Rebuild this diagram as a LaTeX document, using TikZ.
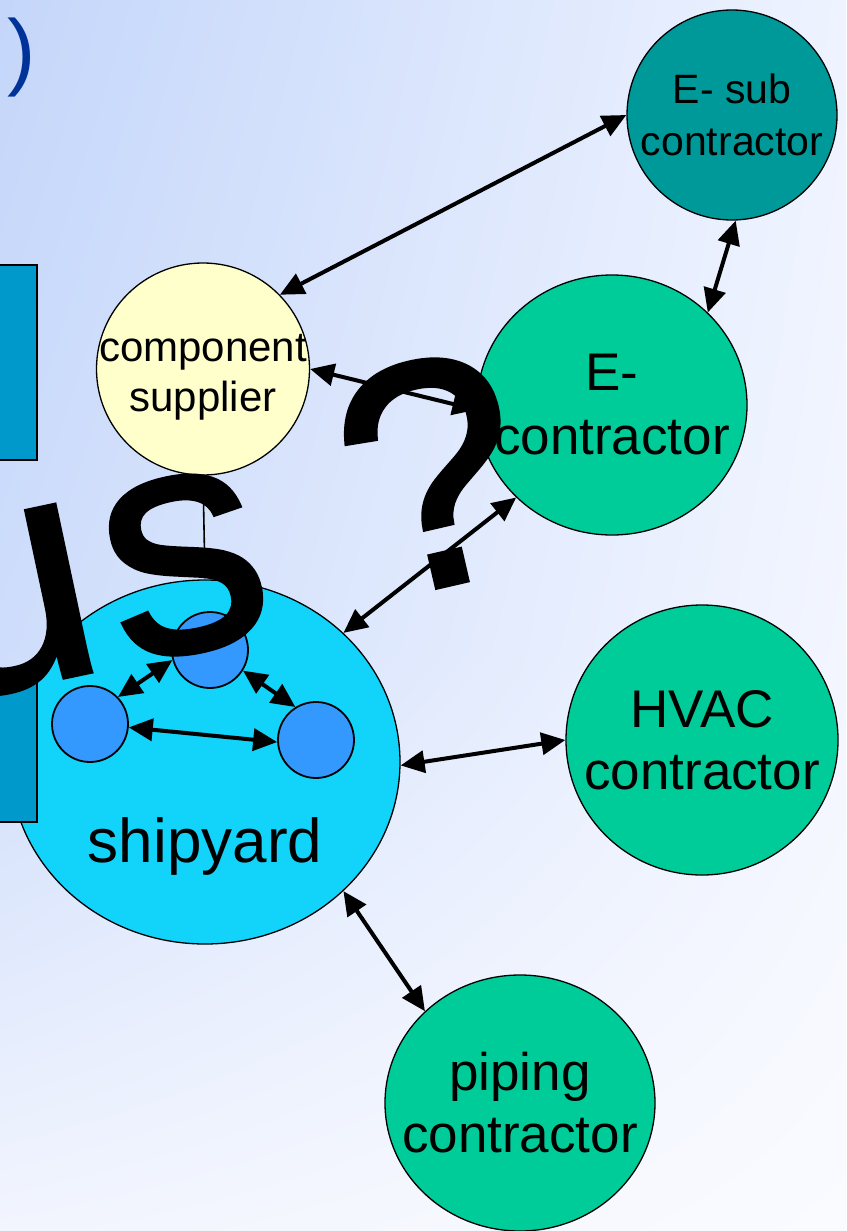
\documentclass[tikz,border=0pt]{standalone}
\usepackage{fontspec}
\setmainfont{Liberation Sans}
\newfontfamily\heavysans[FakeBold=1.5]{Liberation Sans}
\usepackage{tikz}
\usetikzlibrary{positioning, calc}
\usetikzlibrary{shapes.geometric,arrows.meta,shadings}

\definecolor{bgA}{RGB}{196,214,250}
\definecolor{bgB}{RGB}{238,243,255}
\definecolor{bgC}{RGB}{206,221,251}
\definecolor{bgD}{RGB}{243,246,255}
\definecolor{bgE}{RGB}{242,245,254}
\definecolor{bgF}{RGB}{250,251,255}
\definecolor{esubfill}{RGB}{0,153,153}
\definecolor{confill}{RGB}{0,204,153}
\definecolor{yardfill}{RGB}{18,211,250}
\definecolor{deptfill}{RGB}{51,153,255}
\definecolor{compfill}{RGB}{255,255,204}
\definecolor{barfill}{RGB}{0,153,204}
\definecolor{parencol}{RGB}{0,51,153}

\tikzset{
	firm/.style={ellipse, draw=black, line width=1.3pt, inner sep=0pt},
	dept/.style={circle, draw=black, line width=1.8pt, fill=deptfill, minimum size=76pt, inner sep=0pt},
	link/.style={{Triangle[length=24pt,width=22pt]}-{Triangle[length=24pt,width=22pt]}, line width=4pt},
}

\begin{document}
\begin{tikzpicture}[x=1pt, y=-1pt]
			\useasboundingbox (0,0) rectangle (846,1231);
			\clip (0,0) rectangle (846,1231);
			\shade[upper left=bgA, upper right=bgB, lower left=bgC, lower right=bgD] (0,0) rectangle (846,650);
			\shade[upper left=bgC, upper right=bgD, lower left=bgE, lower right=bgF] (0,650) rectangle (846,1231);
			\node[text=parencol, inner sep=0pt, font=\fontsize{85}{90}\selectfont] (paren) at (22,58) {)};

			\node[firm, fill=esubfill, minimum width=210pt, minimum height=210pt,
				label={[align=center, font=\fontsize{41}{52}\selectfont]center:E- sub\\contractor}] (esub) at (732,115) {};
			\node[firm, fill=confill, minimum width=270pt, minimum height=260pt,
				label={[align=center, font=\fontsize{53}{64}\selectfont]center:E-\\contractor}] (econ) at (612,405) {};
			\node[firm, fill=confill, minimum width=272pt, minimum height=270pt,
				label={[align=center, font=\fontsize{53}{62}\selectfont]center:HVAC\\contractor}] (hvac) at (702,740) {};
			\node[firm, fill=confill, minimum width=270pt, minimum height=256pt,
				label={[align=center, font=\fontsize{53}{62}\selectfont]center:piping\\contractor}] (pipe) at (520,1103) {};
			\node[firm, fill=compfill, minimum width=213pt, minimum height=212pt,
				label={[yshift=-8pt, align=center, font=\fontsize{42}{50}\selectfont]center:component\\supplier}] (comp) at (203,369) {};
			\node[firm, fill=yardfill, minimum width=390pt, minimum height=364pt,
				label={[yshift=-84pt, font=\fontsize{62}{70}\selectfont]center:shipyard}] (yard) at (205,762) {};

			\node[dept] (deptT) at (210,650) {};
			\node[dept] (deptL) at (90,724) {};
			\node[dept] (deptR) at (316,740) {};

			\draw[fill=barfill, line width=1.3pt] (-5,265) rectangle (37,460);
			\draw[fill=barfill, line width=1.3pt] (-5,675) rectangle (37,822);

			\draw[link] (esub.180) -- (comp.44);
			\draw[link] (esub.-88) -- (econ.44);
			\draw[link] (comp.0) -- (econ.182);
			\draw[link] (econ.224) -- (yard.43);
			\draw[link] (yard.-1) -- (hvac.180);
			\draw[link] (yard.-43) -- (pipe.136);
			\draw[-{Triangle[length=9pt,width=7pt]}, line width=1.6pt] (comp.-90) -- (yard.90);
			\draw[link] (deptT.195) -- (deptL.44);
			\draw[link] (deptT.-32) -- (deptR.122);
			\draw[link] (deptL.-5) -- (deptR.183);

			\node[rotate=12, anchor=base east, inner sep=0pt, font=\heavysans\fontsize{322}{360}\selectfont] (us) at (281,631) {u\kern12pt s};
			\node[rotate=13, inner sep=0pt, font=\heavysans\fontsize{322}{340}\selectfont] (ask) at (432,473) {?};
\end{tikzpicture}
\end{document}
